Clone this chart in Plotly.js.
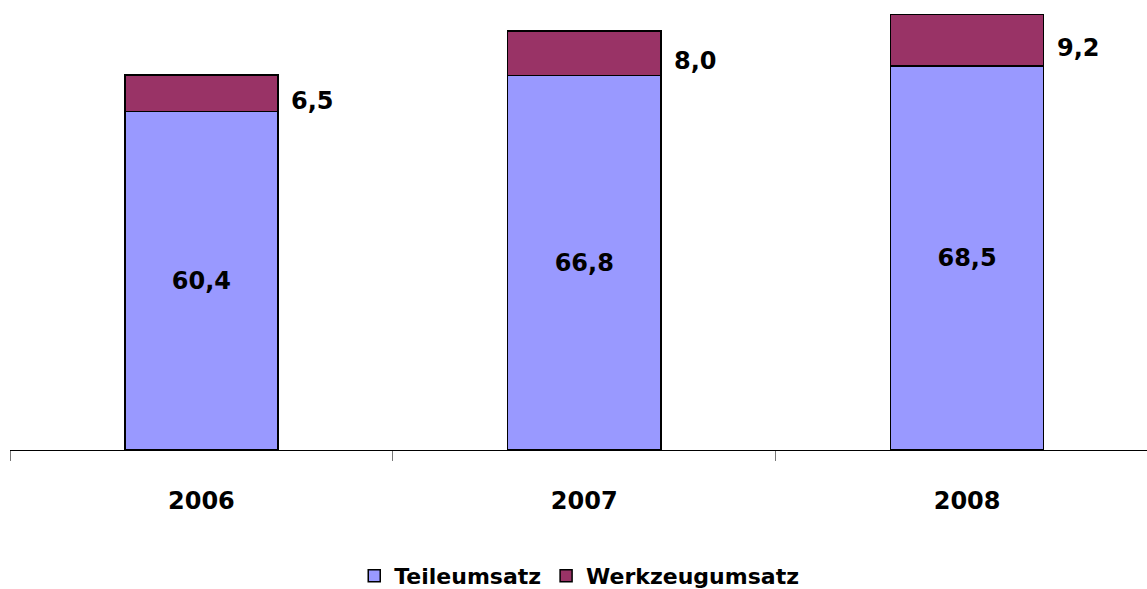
<!DOCTYPE html>
<html>
<head>
<meta charset="utf-8">
<script src="https://cdn.plot.ly/plotly-3.0.1.min.js"></script>
<style>html,body{margin:0;padding:0;background:#fff;}#chart{width:1147px;height:589px;}</style>
</head>
<body>
<div id="chart"></div>
<script>
const years = ['2006', '2007', '2008'];
const teileumsatz = [60.4, 66.8, 68.5];
const werkzeugumsatz = [6.5, 8.0, 9.2];
const seriesNames = ['Teileumsatz', 'Werkzeugumsatz'];

const fmt = v => v.toFixed(1).replace('.', ',');
const FONT = 'DejaVu Sans, sans-serif';

const traces = [
  {
    type: 'bar', x: years, y: teileumsatz, name: seriesNames[0],
    marker: {color: '#9999FF', line: {color: '#000000', width: 1.5}},
    width: 0.4,
    text: teileumsatz.map(fmt), textposition: 'inside', insidetextanchor: 'middle',
    textfont: {family: FONT, size: 24, color: '#000', weight: 700},
    hoverinfo: 'none'
  },
  {
    type: 'bar', x: years, y: werkzeugumsatz, name: seriesNames[1],
    marker: {color: '#993366', line: {color: '#000000', width: 1.5}},
    width: 0.4, hoverinfo: 'none'
  }
];

const annotations = years.map((yr, i) => ({
  x: i + 0.23, xref: 'x', y: teileumsatz[i] + werkzeugumsatz[i] / 2, yref: 'y',
  text: fmt(werkzeugumsatz[i]), showarrow: false, xanchor: 'left', yanchor: 'middle',
  yshift: -8,
  font: {family: FONT, size: 24, color: '#000', weight: 700}
}));

const layout = {
  width: 1147, height: 589,
  margin: {l: 10, r: 0, t: 0, b: 139},
  barmode: 'stack',
  paper_bgcolor: '#fff', plot_bgcolor: '#fff',
  showlegend: true,
  legend: {
    orientation: 'h', x: 0.505, xanchor: 'center', xref: 'container',
    y: 0.022, yanchor: 'middle', yref: 'container',
    font: {family: FONT, size: 22, color: '#000', weight: 700},
    traceorder: 'normal'
  },
  xaxis: {
    type: 'category', range: [-0.5, 2.47],
    showline: true, linecolor: '#000', linewidth: 1,
    ticks: 'outside', tickson: 'boundaries', ticklen: 10, tickcolor: '#777', tickwidth: 1,
    ticklabelstandoff: 29,
    tickfont: {family: FONT, size: 24, color: '#000', weight: 700},
    showgrid: false, zeroline: false, fixedrange: true
  },
  yaxis: {
    range: [0, 80.29], visible: false, showgrid: false, zeroline: false, fixedrange: true
  },
  annotations: annotations
};

Plotly.newPlot('chart', traces, layout, {displayModeBar: false, staticPlot: true});
</script>
</body>
</html>
